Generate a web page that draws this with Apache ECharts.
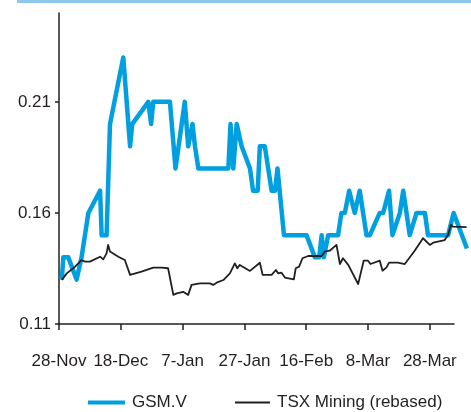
<!DOCTYPE html>
<html>
<head>
<meta charset="utf-8">
<script src="https://cdn.jsdelivr.net/npm/echarts@6/dist/echarts.min.js"></script>
<style>
html,body{margin:0;padding:0;background:#fff;}
#chart{width:471px;height:412px;}
</style>
</head>
<body>
<div id="chart"></div>
<script>
// x tick labels (calendar days counted from 28-Nov)
const xTickDays = [0, 20, 40, 60, 80, 100, 120];
const xTickLabels = ['28-Nov', '18-Dec', '7-Jan', '27-Jan', '16-Feb', '8-Mar', '28-Mar'];
const yTickValues = [0.11, 0.16, 0.21];

// GSM.V (day offset, price)
const gsmDays = [0.9, 1.4, 3.0, 5.7, 7.3, 9.5, 13.3, 13.8, 15.4, 16.5, 20.8, 23.0, 23.7, 28.9, 29.8, 30.5, 35.9, 37.7, 40.7, 41.8, 43.2, 44.0, 45.1, 54.8, 55.5, 56.4, 57.5, 59.1, 61.8, 62.8, 64.3, 65.0, 66.6, 68.8, 69.9, 70.7, 72.8, 80.1, 82.8, 84.2, 85.0, 85.7, 87.1, 90.3, 91.4, 92.5, 93.9, 95.7, 97.3, 99.5, 100.6, 103.8, 104.9, 106.8, 107.9, 110.3, 111.4, 113.5, 115.7, 118.4, 119.4, 125.9, 127.7, 132.0];
const gsmValues = [0.13, 0.14, 0.14, 0.13, 0.14, 0.16, 0.17, 0.15, 0.15, 0.20, 0.23, 0.19, 0.20, 0.21, 0.20, 0.21, 0.21, 0.18, 0.21, 0.19, 0.20, 0.19, 0.18, 0.18, 0.20, 0.18, 0.20, 0.19, 0.18, 0.17, 0.17, 0.19, 0.19, 0.17, 0.17, 0.18, 0.15, 0.15, 0.14, 0.14, 0.15, 0.14, 0.15, 0.15, 0.16, 0.16, 0.17, 0.16, 0.17, 0.15, 0.15, 0.16, 0.16, 0.17, 0.15, 0.16, 0.17, 0.15, 0.16, 0.16, 0.15, 0.15, 0.16, 0.144];

// TSX Mining (rebased)
const tsxDays = [0.9, 2.5, 5.2, 7.3, 8.4, 10.0, 13.3, 14.3, 15.4, 15.9, 16.5, 19.2, 21.3, 23.0, 26.7, 30.5, 33.2, 35.3, 37.0, 38.1, 40.2, 41.8, 42.9, 45.6, 48.8, 49.9, 51.0, 53.2, 55.3, 56.9, 57.7, 58.5, 61.8, 65.0, 65.9, 68.8, 70.2, 70.9, 72.0, 73.1, 76.0, 76.6, 77.7, 78.8, 80.6, 85.0, 86.0, 87.6, 89.8, 90.9, 91.9, 93.6, 96.8, 98.6, 100.0, 100.8, 103.8, 104.7, 106.0, 106.8, 109.7, 111.9, 115.1, 117.8, 120.0, 121.1, 124.8, 125.9, 126.8, 127.5, 131.9];
const tsxValues = [0.1298, 0.1328, 0.1358, 0.1388, 0.1381, 0.1381, 0.1403, 0.1391, 0.1418, 0.1456, 0.1426, 0.1403, 0.1388, 0.1321, 0.1336, 0.1354, 0.1354, 0.1351, 0.1231, 0.1238, 0.1245, 0.1231, 0.1276, 0.1283, 0.1283, 0.1276, 0.1286, 0.1298, 0.1328, 0.1373, 0.1351, 0.1366, 0.1339, 0.1376, 0.1321, 0.1321, 0.1343, 0.1328, 0.1331, 0.1309, 0.1301, 0.1351, 0.1358, 0.1396, 0.1406, 0.1406, 0.1426, 0.1430, 0.1456, 0.1370, 0.1396, 0.1366, 0.1280, 0.1385, 0.1385, 0.1370, 0.1385, 0.1340, 0.1355, 0.1376, 0.1376, 0.1370, 0.1430, 0.1486, 0.1456, 0.1466, 0.1478, 0.1501, 0.1546, 0.1538, 0.1536];

const AXIS_END_DAY = 128;   // where the drawn x axis line stops

const pair = (xs, ys) => xs.map((x, i) => [x, ys[i]]);
const FONT = '"Liberation Sans", Arial, sans-serif';
const INK = '#231F20';
const BLUE = '#009FDF';
const FS = 17;

const chart = echarts.init(document.getElementById('chart'), null, {renderer: 'canvas'});
chart.setOption({
  animation: false,
  backgroundColor: '#ffffff',
  grid: {left: 59, right: 1, top: 13, bottom: 88, containLabel: false},
  xAxis: {
    type: 'value', min: 0, max: 133,
    splitLine: {show: false},
    axisLine: {show: false},
    axisTick: {show: true, length: 6, inside: false, customValues: xTickDays, lineStyle: {color: INK, width: 1.5}},
    axisLabel: {
      customValues: xTickDays, margin: 29, hideOverlap: false,
      fontFamily: FONT, fontSize: FS, color: INK,
      formatter: v => xTickLabels[xTickDays.indexOf(v)] || ''
    }
  },
  yAxis: {
    type: 'value', min: 0.11, max: 0.25,
    splitLine: {show: false},
    axisLine: {show: true, lineStyle: {color: INK, width: 1.5}},
    axisTick: {show: true, length: 4, customValues: yTickValues, lineStyle: {color: INK, width: 1.5}},
    axisLabel: {
      customValues: yTickValues, margin: 8,
      fontFamily: FONT, fontSize: FS, color: INK,
      formatter: v => v.toFixed(2)
    }
  },
  legend: [
    {
      left: 83, top: 389, icon: 'rect',
      itemWidth: 37, itemHeight: 4,
      textStyle: {fontFamily: FONT, fontSize: FS, color: INK, padding: [0, 0, 0, 2]},
      data: ['GSM.V']
    },
    {
      left: 230, top: 389, icon: 'rect',
      itemWidth: 35, itemHeight: 1.8,
      textStyle: {fontFamily: FONT, fontSize: FS, color: INK, padding: [0, 0, 0, 2]},
      data: ['TSX Mining (rebased)']
    }
  ],
  series: [
    {
      name: 'GSM.V', type: 'line', data: pair(gsmDays, gsmValues),
      showSymbol: false, symbol: 'none',
      lineStyle: {color: BLUE, width: 4.5, join: 'round'},
      itemStyle: {color: BLUE}
    },
    {
      name: 'TSX Mining (rebased)', type: 'line', data: pair(tsxDays, tsxValues),
      showSymbol: false, symbol: 'none',
      lineStyle: {color: INK, width: 1.8, join: 'round'},
      itemStyle: {color: INK}
    }
  ]
});

// decorations: top rule and the x axis line stopping at AXIS_END_DAY, placed via the chart's own scales
const p0 = chart.convertToPixel({gridIndex: 0}, [0, 0.11]);
const p1 = chart.convertToPixel({gridIndex: 0}, [AXIS_END_DAY, 0.11]);
chart.setOption({
  graphic: [
    {type: 'rect', left: 17, top: 0, shape: {width: 454, height: 3}, style: {fill: '#8CC8EC'}},
    {type: 'line', shape: {x1: p0[0] - 0.75, y1: p0[1], x2: p1[0], y2: p1[1]}, style: {stroke: INK, lineWidth: 1.5}, z: 10}
  ]
});
</script>
</body>
</html>
